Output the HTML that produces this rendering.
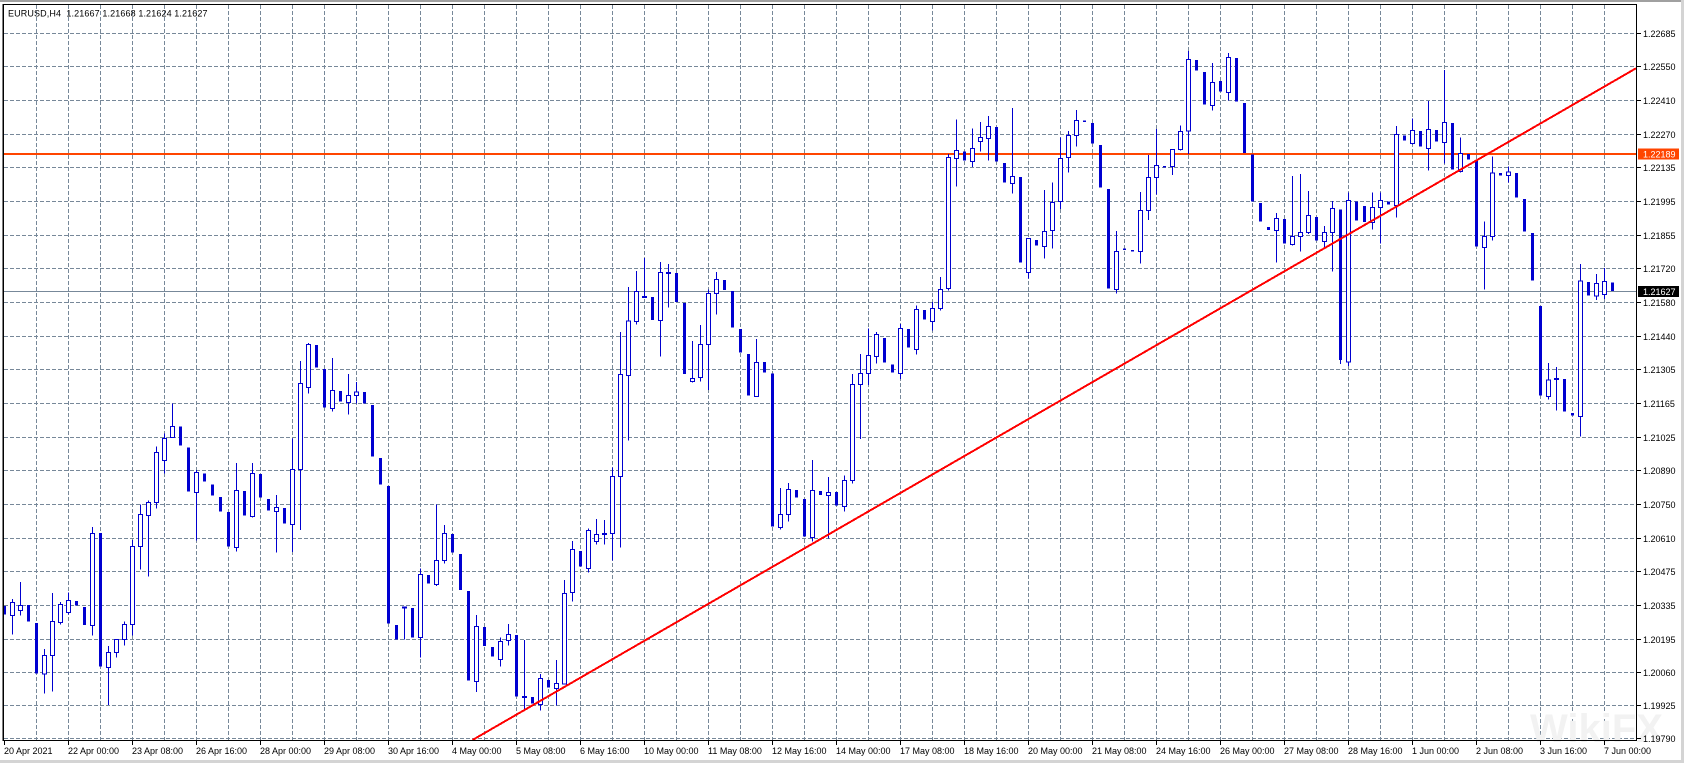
<!DOCTYPE html>
<html>
<head>
<meta charset="utf-8">
<style>
html,body{margin:0;padding:0;background:#fff;}
body{width:1684px;height:763px;overflow:hidden;}
svg{display:block;}
text{font-family:"Liberation Sans",Arial,sans-serif;font-size:9px;fill:#000;}
</style>
</head>
<body>
<svg width="1684" height="763" viewBox="0 0 1684 763" xmlns="http://www.w3.org/2000/svg">
<rect x="0" y="0" width="1684" height="763" fill="#fff"/>
<!-- window border -->
<rect x="0" y="0" width="1684" height="2" fill="#a0a0a0"/>
<rect x="1681" y="0" width="3" height="763" fill="#d4d4d4"/>
<rect x="0" y="760" width="1684" height="3" fill="#d4d4d4"/>

<!-- grid -->
<g stroke="#778899" stroke-width="1" stroke-dasharray="4 2" fill="none" shape-rendering="crispEdges">
<path d="M36.5 5V740M68.5 5V740M100.5 5V740M132.5 5V740M164.5 5V740M196.5 5V740M228.5 5V740M260.5 5V740M292.5 5V740M324.5 5V740M356.5 5V740M388.5 5V740M420.5 5V740M452.5 5V740M484.5 5V740M516.5 5V740M548.5 5V740M580.5 5V740M612.5 5V740M644.5 5V740M676.5 5V740M708.5 5V740M740.5 5V740M772.5 5V740M804.5 5V740M836.5 5V740M868.5 5V740M900.5 5V740M932.5 5V740M964.5 5V740M996.5 5V740M1028.5 5V740M1060.5 5V740M1092.5 5V740M1124.5 5V740M1156.5 5V740M1188.5 5V740M1220.5 5V740M1252.5 5V740M1284.5 5V740M1316.5 5V740M1348.5 5V740M1380.5 5V740M1412.5 5V740M1444.5 5V740M1476.5 5V740M1508.5 5V740M1540.5 5V740M1572.5 5V740M1604.5 5V740"/>
<path d="M4 33.5H1636M4 66.5H1636M4 100.5H1636M4 134.5H1636M4 167.5H1636M4 201.5H1636M4 235.5H1636M4 268.5H1636M4 302.5H1636M4 336.5H1636M4 369.5H1636M4 403.5H1636M4 437.5H1636M4 470.5H1636M4 504.5H1636M4 538.5H1636M4 571.5H1636M4 605.5H1636M4 639.5H1636M4 672.5H1636M4 705.5H1636M4 738.5H1636"/>
</g>

<!-- current price line -->
<path d="M4 291.5H1636" stroke="#778899" stroke-width="1" shape-rendering="crispEdges"/>
<!-- horizontal level line -->
<path d="M4 154H1636" stroke="#ff4500" stroke-width="2" shape-rendering="crispEdges"/>

<!-- wicks -->
<path stroke="#0000d0" stroke-width="1" fill="none" shape-rendering="crispEdges" d="M12.5 599V634.7M20.5 582V615.7M44.5 649V693.7M52.5 593V691.7M60.5 602V624.7M68.5 592.3V614.3M92.5 527V635.7M108.5 646V705M116.5 639.3V657.7M124.5 621.3V645.7M132.5 540V635.3M140.5 504.7V569.7M148.5 500.3V576.7M156.5 446.3V508.5M164.5 433.7V473.7M172.5 403.7V437.3M196.5 470V540.3M236.5 463V551.7M252.5 463V517.7M276.5 495V552.7M292.5 438.7V552M300.5 361V530M308.5 343V393.7M332.5 358V411.7M348.5 374V414.7M356.5 382V403.3M404.5 607V639.3M420.5 568.3V657.7M436.5 504.3V586M444.5 525V563.7M476.5 615V692M500.5 637.7V666.7M508.5 624V645.7M524.5 640V710M540.5 674V710.7M556.5 660V705.7M564.5 580V684M572.5 541V601.7M588.5 528.7V572.7M596.5 519V544.7M604.5 520V544.7M612.5 467.7V560.7M620.5 332V547.7M628.5 287V440.7M636.5 271V324.7M644.5 258V298M660.5 262V356.7M668.5 264V307.7M692.5 341V382.7M700.5 325V381.7M708.5 289.3V390M716.5 272V314.7M756.5 339V396.3M780.5 488V529.3M788.5 483V521.7M812.5 460V541.7M828.5 477V538.3M844.5 475.3V511.7M852.5 374V483.7M860.5 354V439M868.5 328.3V385M876.5 332V363.7M900.5 324V379M916.5 305.3V354.7M932.5 302V330.7M940.5 277V310.3M948.5 154V290.7M956.5 119.3V186.7M972.5 128.3V167M980.5 122V151.7M988.5 116V160.7M1012.5 108V193.7M1028.5 238.3V278.7M1044.5 190V258.7M1052.5 182.3V248.7M1060.5 137.7V209M1068.5 131V172.7M1076.5 110V146.7M1116.5 231V293.7M1140.5 192V263.7M1148.5 155V220M1156.5 129V194.7M1172.5 149.3V175M1180.5 125.3V150.7M1188.5 51V154M1212.5 63V110.3M1228.5 53V100.7M1276.5 213V262.7M1292.5 176V245.7M1300.5 174V251.7M1308.5 191V234M1324.5 226V248.3M1332.5 201V271.7M1340.5 209.3V364M1348.5 192.7V366M1372.5 192.3V229.7M1380.5 192.3V243.3M1396.5 126V217.7M1412.5 118.3V144.7M1428.5 101V170.7M1444.5 70V163.7M1460.5 137.7V172.3M1484.5 221.7V289.3M1492.5 156.7V240.3M1508.5 166.3V182.7M1548.5 363V399.3M1556.5 367V410.7M1580.5 264V436.7M1596.5 274V300M1604.5 268V299"/>

<!-- bear bodies -->
<path fill="#0000d0" shape-rendering="crispEdges" d="M3 606h3V614.7h-3zM27 605h3V621.7h-3zM35 623h3V673.7h-3zM75 601h3V605.7h-3zM83 607h3V625h-3zM99 533h3V666.7h-3zM179 426.3h3V445.7h-3zM187 447.3h3V491.7h-3zM203 473.3h3V481.7h-3zM211 484.3h3V495.7h-3zM219 497h3V511.7h-3zM227 512h3V546.7h-3zM243 491h3V515.7h-3zM259 474h3V497.7h-3zM267 499h3V510.7h-3zM283 508h3V523.7h-3zM315 345h3V367.7h-3zM323 369h3V407.7h-3zM339 391h3V401.7h-3zM363 392h3V403.7h-3zM371 405h3V456.7h-3zM379 458h3V484.7h-3zM387 486h3V623.7h-3zM395 625h3V639.7h-3zM411 608h3V637.7h-3zM427 575h3V583.7h-3zM451 534h3V552.7h-3zM459 554h3V590h-3zM467 591h3V680.7h-3zM483 627h3V646h-3zM491 647h3V656.7h-3zM515 635h3V696.7h-3zM522 696h5v2h-5zM531 697h3V703.7h-3zM547 680h3V687.7h-3zM579 551h3V566.7h-3zM602 533h5v2h-5zM642 296h5v2h-5zM651 297h3V320h-3zM666 272h5v2h-5zM675 273h3V302h-3zM683 303h3V374h-3zM723 280h3V290h-3zM731 291h3V327.7h-3zM739 329h3V352.7h-3zM747 354h3V395.7h-3zM763 362h3V372.7h-3zM771 373.3h3V526.3h-3zM795 490h3V497.7h-3zM803 499h3V536.7h-3zM819 491h3V495h-3zM835 492h3V505.7h-3zM883 338h3V362.7h-3zM891 364.3h3V372.7h-3zM907 329h3V347.7h-3zM923 310h3V319.7h-3zM963 151.3h3V160.3h-3zM995 127h3V161.7h-3zM1003 163h3V182.7h-3zM1019 177h3V262.7h-3zM1035 240h3V245.7h-3zM1083 120.3h3V122h-3zM1091 123h3V143.7h-3zM1099 145h3V187.7h-3zM1107 189h3V288.7h-3zM1123 248.3h3V250h-3zM1131 250h3V251.7h-3zM1163 166h3V167.7h-3zM1195 60h3V70.7h-3zM1203 72h3V104.7h-3zM1219 81h3V91.7h-3zM1235 58h3V101.7h-3zM1243 103h3V153h-3zM1251 154.3h3V201.7h-3zM1259 203h3V221.7h-3zM1267 227h3V230h-3zM1283 219h3V243.7h-3zM1315 217h3V240.7h-3zM1339 209.3h3V360h-3zM1355 201.3h3V220.7h-3zM1363 206h3V222h-3zM1387 201.3h3V204.7h-3zM1403 135.3h3V140.7h-3zM1419 131h3V146.7h-3zM1435 130h3V141.7h-3zM1451 123h3V169.7h-3zM1467 154h3V159.7h-3zM1475 160.7h3V246.7h-3zM1499 173h3V175.7h-3zM1515 173h3V197.7h-3zM1523 199h3V231.7h-3zM1531 233h3V280.7h-3zM1539 306h3V395.7h-3zM1554 378h5v2h-5zM1563 379h3V411.7h-3zM1571 413h3V415.7h-3zM1587 282h3V295.7h-3zM1611 282.3h3V291h-3z"/>

<!-- bull bodies -->
<g fill="#fff" stroke="#0000d0" stroke-width="1" shape-rendering="crispEdges">
<rect x="10.5" y="602.3" width="4" height="13"/>
<rect x="18.5" y="605.7" width="4" height="4.6"/>
<rect x="42.5" y="655.3" width="4" height="18.7"/>
<rect x="50.5" y="621.3" width="4" height="34"/>
<rect x="58.5" y="604.3" width="4" height="18.4"/>
<rect x="66.5" y="600.3" width="4" height="12"/>
<rect x="90.5" y="533.3" width="4" height="92.4"/>
<rect x="106.5" y="652.3" width="4" height="15"/>
<rect x="114.5" y="639.3" width="4" height="13"/>
<rect x="122.5" y="624.3" width="4" height="15"/>
<rect x="130.5" y="546.3" width="4" height="78"/>
<rect x="138.5" y="514.3" width="4" height="32"/>
<rect x="146.5" y="502.3" width="4" height="13"/>
<rect x="154.5" y="452.3" width="4" height="50"/>
<rect x="162.5" y="438.3" width="4" height="22"/>
<rect x="170.5" y="426.3" width="4" height="11"/>
<rect x="194.5" y="472.3" width="4" height="20"/>
<rect x="234.5" y="490.3" width="4" height="57"/>
<rect x="250.5" y="473.3" width="4" height="43.4"/>
<rect x="274.5" y="507.3" width="4" height="4"/>
<rect x="290.5" y="469.3" width="4" height="55"/>
<rect x="298.5" y="383.3" width="4" height="86"/>
<rect x="306.5" y="344.3" width="4" height="43"/>
<rect x="330.5" y="390.3" width="4" height="18"/>
<rect x="346.5" y="395.3" width="4" height="7"/>
<rect x="354.5" y="392" width="4" height="3.3"/>
<rect x="402.5" y="607" width="4" height="1"/>
<rect x="418.5" y="574.3" width="4" height="63.4"/>
<rect x="434.5" y="560.3" width="4" height="24.4"/>
<rect x="442.5" y="533.3" width="4" height="27.4"/>
<rect x="474.5" y="626.3" width="4" height="55.4"/>
<rect x="498.5" y="641.3" width="4" height="18"/>
<rect x="506.5" y="634.3" width="4" height="6"/>
<rect x="538.5" y="678.3" width="4" height="26"/>
<rect x="554.5" y="683.3" width="4" height="5"/>
<rect x="562.5" y="593.3" width="4" height="90.7"/>
<rect x="570.5" y="549.3" width="4" height="43"/>
<rect x="586.5" y="530.3" width="4" height="38.4"/>
<rect x="594.5" y="534.3" width="4" height="7"/>
<rect x="610.5" y="476.3" width="4" height="57"/>
<rect x="618.5" y="374.3" width="4" height="102.4"/>
<rect x="626.5" y="321" width="4" height="54.7"/>
<rect x="634.5" y="291.3" width="4" height="30"/>
<rect x="658.5" y="272.3" width="4" height="48"/>
<rect x="690.5" y="378.3" width="4" height="3"/>
<rect x="698.5" y="344.3" width="4" height="33"/>
<rect x="706.5" y="293.3" width="4" height="51"/>
<rect x="714.5" y="279.3" width="4" height="14"/>
<rect x="754.5" y="362.3" width="4" height="34"/>
<rect x="778.5" y="514.3" width="4" height="13"/>
<rect x="786.5" y="489.3" width="4" height="25"/>
<rect x="810.5" y="490.3" width="4" height="47"/>
<rect x="826.5" y="492.3" width="4" height="3"/>
<rect x="842.5" y="480.3" width="4" height="26"/>
<rect x="850.5" y="384.3" width="4" height="96"/>
<rect x="858.5" y="373.3" width="4" height="11.4"/>
<rect x="866.5" y="355.3" width="4" height="18"/>
<rect x="874.5" y="334.3" width="4" height="22"/>
<rect x="898.5" y="328.3" width="4" height="45"/>
<rect x="914.5" y="309.3" width="4" height="40"/>
<rect x="930.5" y="308.3" width="4" height="13"/>
<rect x="938.5" y="289.3" width="4" height="19"/>
<rect x="946.5" y="157.3" width="4" height="131"/>
<rect x="954.5" y="150.7" width="4" height="7.6"/>
<rect x="970.5" y="148.3" width="4" height="13"/>
<rect x="978.5" y="137.3" width="4" height="4"/>
<rect x="986.5" y="126.3" width="4" height="12"/>
<rect x="1010.5" y="176.3" width="4" height="7"/>
<rect x="1026.5" y="238.3" width="4" height="34"/>
<rect x="1042.5" y="231.3" width="4" height="15"/>
<rect x="1050.5" y="202.3" width="4" height="28"/>
<rect x="1058.5" y="158.3" width="4" height="43"/>
<rect x="1066.5" y="135.3" width="4" height="22"/>
<rect x="1074.5" y="120.3" width="4" height="15"/>
<rect x="1114.5" y="251.3" width="4" height="38"/>
<rect x="1138.5" y="210.3" width="4" height="41"/>
<rect x="1146.5" y="177.3" width="4" height="33"/>
<rect x="1154.5" y="165.3" width="4" height="12"/>
<rect x="1170.5" y="149.3" width="4" height="17"/>
<rect x="1178.5" y="131.3" width="4" height="18"/>
<rect x="1186.5" y="59.3" width="4" height="71.7"/>
<rect x="1210.5" y="82.3" width="4" height="23.4"/>
<rect x="1226.5" y="57.3" width="4" height="35"/>
<rect x="1274.5" y="218.3" width="4" height="12"/>
<rect x="1290.5" y="236.3" width="4" height="8"/>
<rect x="1298.5" y="232.3" width="4" height="4"/>
<rect x="1306.5" y="215.3" width="4" height="17.4"/>
<rect x="1322.5" y="232.7" width="4" height="8.6"/>
<rect x="1330.5" y="208.3" width="4" height="24.4"/>
<rect x="1346.5" y="200.7" width="4" height="161.3"/>
<rect x="1370.5" y="207.3" width="4" height="15"/>
<rect x="1378.5" y="200.3" width="4" height="7"/>
<rect x="1394.5" y="134.3" width="4" height="71"/>
<rect x="1410.5" y="130.3" width="4" height="13"/>
<rect x="1426.5" y="129.3" width="4" height="19"/>
<rect x="1442.5" y="122.3" width="4" height="20"/>
<rect x="1458.5" y="153.3" width="4" height="18.4"/>
<rect x="1482.5" y="236.3" width="4" height="11"/>
<rect x="1490.5" y="173" width="4" height="63.3"/>
<rect x="1506.5" y="172" width="4" height="3.7"/>
<rect x="1546.5" y="380" width="4" height="16.7"/>
<rect x="1578.5" y="281" width="4" height="135.3"/>
<rect x="1594.5" y="283.3" width="4" height="12.7"/>
<rect x="1602.5" y="281.3" width="4" height="13"/>
</g>

<!-- trendline -->
<line x1="472.5" y1="740" x2="1636" y2="68.3" stroke="#ff0000" stroke-width="2" shape-rendering="crispEdges"/>

<!-- watermark -->
<text x="1530" y="742" style="font-size:40px;font-weight:bold;fill:#f2f2f2;">WikiFX</text>

<!-- chart frame -->
<path d="M2.5 4V741" stroke="#808080" stroke-width="1" shape-rendering="crispEdges"/>
<rect x="3.5" y="4.5" width="1633" height="736" fill="none" stroke="#000" stroke-width="1" shape-rendering="crispEdges"/>

<!-- price axis ticks -->
<path stroke="#000" stroke-width="1" shape-rendering="crispEdges" d="M1637 33.5h4M1637 66.5h4M1637 100.5h4M1637 134.5h4M1637 167.5h4M1637 201.5h4M1637 235.5h4M1637 268.5h4M1637 302.5h4M1637 336.5h4M1637 369.5h4M1637 403.5h4M1637 437.5h4M1637 470.5h4M1637 504.5h4M1637 538.5h4M1637 571.5h4M1637 605.5h4M1637 639.5h4M1637 672.5h4M1637 705.5h4M1637 738.5h4"/>

<!-- price axis labels -->
<g>
<text x="1643" y="37">1.22685</text>
<text x="1643" y="70">1.22550</text>
<text x="1643" y="104">1.22410</text>
<text x="1643" y="138">1.22270</text>
<text x="1643" y="171">1.22135</text>
<text x="1643" y="205">1.21995</text>
<text x="1643" y="239">1.21855</text>
<text x="1643" y="272">1.21720</text>
<text x="1643" y="306">1.21580</text>
<text x="1643" y="340">1.21440</text>
<text x="1643" y="373">1.21305</text>
<text x="1643" y="407">1.21165</text>
<text x="1643" y="441">1.21025</text>
<text x="1643" y="474">1.20890</text>
<text x="1643" y="508">1.20750</text>
<text x="1643" y="542">1.20610</text>
<text x="1643" y="575">1.20475</text>
<text x="1643" y="609">1.20335</text>
<text x="1643" y="643">1.20195</text>
<text x="1643" y="676">1.20060</text>
<text x="1643" y="709">1.19925</text>
<text x="1643" y="742">1.19790</text>
</g>

<!-- level label -->
<rect x="1638" y="148.5" width="41" height="11" fill="#ff4500"/>
<text x="1643" y="157.5" style="fill:#fff;">1.22189</text>
<!-- current price label -->
<rect x="1638" y="286" width="41" height="11" fill="#000"/>
<text x="1643" y="295" style="fill:#fff;">1.21627</text>

<!-- time axis ticks -->
<path stroke="#000" stroke-width="1" shape-rendering="crispEdges" d="M4.5 741v4M68.5 741v4M132.5 741v4M196.5 741v4M260.5 741v4M324.5 741v4M388.5 741v4M452.5 741v4M516.5 741v4M580.5 741v4M644.5 741v4M708.5 741v4M772.5 741v4M836.5 741v4M900.5 741v4M964.5 741v4M1028.5 741v4M1092.5 741v4M1156.5 741v4M1220.5 741v4M1284.5 741v4M1348.5 741v4M1412.5 741v4M1476.5 741v4M1540.5 741v4M1604.5 741v4"/>

<!-- time axis labels -->
<g>
<text x="4" y="754">20 Apr 2021</text>
<text x="68" y="754">22 Apr 00:00</text>
<text x="132" y="754">23 Apr 08:00</text>
<text x="196" y="754">26 Apr 16:00</text>
<text x="260" y="754">28 Apr 00:00</text>
<text x="324" y="754">29 Apr 08:00</text>
<text x="388" y="754">30 Apr 16:00</text>
<text x="452" y="754">4 May 00:00</text>
<text x="516" y="754">5 May 08:00</text>
<text x="580" y="754">6 May 16:00</text>
<text x="644" y="754">10 May 00:00</text>
<text x="708" y="754">11 May 08:00</text>
<text x="772" y="754">12 May 16:00</text>
<text x="836" y="754">14 May 00:00</text>
<text x="900" y="754">17 May 08:00</text>
<text x="964" y="754">18 May 16:00</text>
<text x="1028" y="754">20 May 00:00</text>
<text x="1092" y="754">21 May 08:00</text>
<text x="1156" y="754">24 May 16:00</text>
<text x="1220" y="754">26 May 00:00</text>
<text x="1284" y="754">27 May 08:00</text>
<text x="1348" y="754">28 May 16:00</text>
<text x="1412" y="754">1 Jun 00:00</text>
<text x="1476" y="754">2 Jun 08:00</text>
<text x="1540" y="754">3 Jun 16:00</text>
<text x="1604" y="754">7 Jun 00:00</text>
</g>

<!-- title -->
<text x="8" y="16.5" xml:space="preserve" style="letter-spacing:0.12px;">EURUSD,H4  1.21667 1.21668 1.21624 1.21627</text>
</svg>
</body>
</html>
